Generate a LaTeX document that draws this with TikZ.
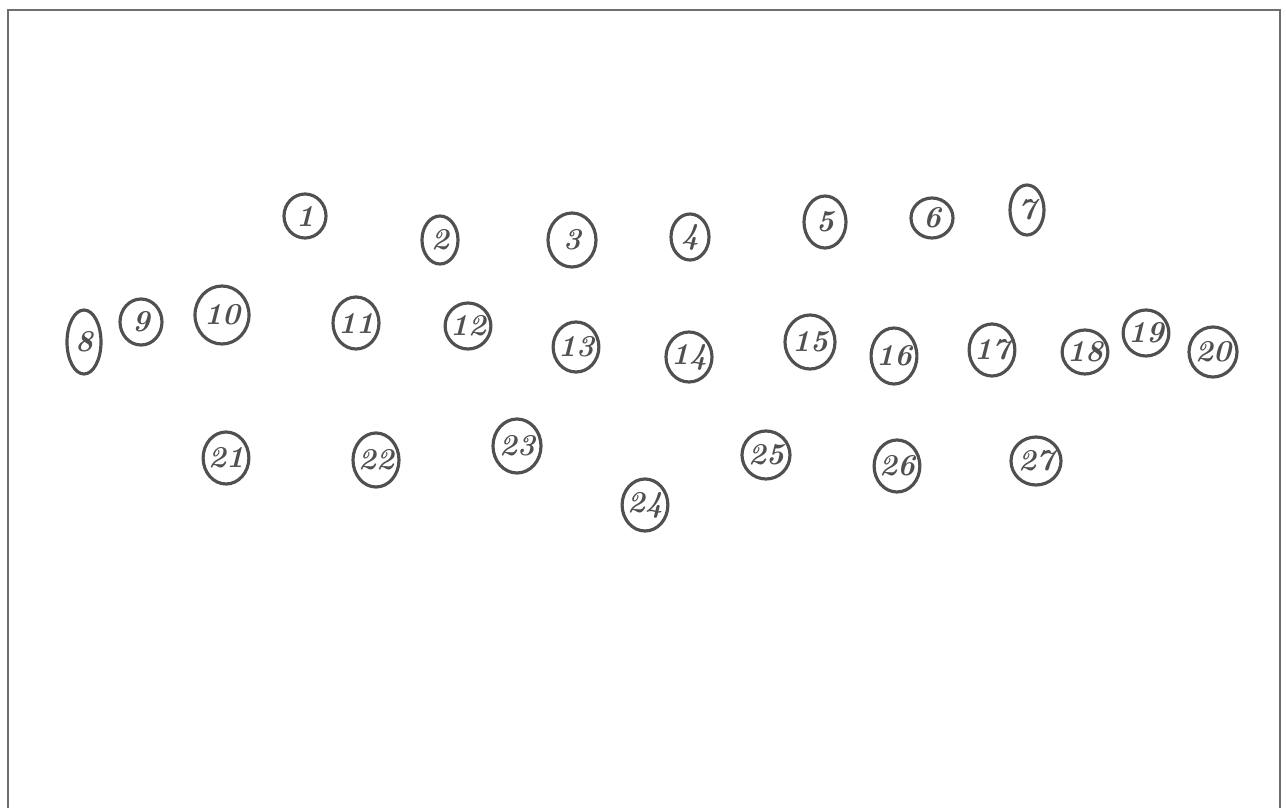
\documentclass[tikz,border=0pt]{standalone}
\usepackage{tikz}
\usetikzlibrary{shapes.geometric}
\definecolor{pInk}{RGB}{80,80,80}
\definecolor{pFrame}{RGB}{110,110,110}

\begin{document}
\begin{tikzpicture}[
	x=0.02cm, y=-0.02cm,
	num/.style={
		ellipse, draw=pInk, line width=1.8pt, inner sep=-1pt,
		text=pInk, font=\LARGE\bfseries\itshape
	}
	]
	\useasboundingbox (0,0) rectangle (1286,808);
	% frame, its bottom runs off the page
	\draw[pFrame, line width=1.5pt] (8,808) -- (8,10) -- (1280,10) -- (1280,808);

	% top row
	\foreach \i/\x/\y/\w/\h in {1/305/216/42/44, 2/440/240/36/48, 3/572/240/48/54,
		4/690/237/38/46, 5/825/222/42/52, 6/932/218/42/40, 7/1027/210/34/50}
	\node[num, minimum width=\w*0.02cm, minimum height=\h*0.02cm] (n\i) at (\x,\y) {\i};

	% middle row
	\foreach \i/\x/\y/\w/\h in {8/84/342/34/64, 9/141/322/42/46, 10/222/315/54/58,
		11/356/323/46/52, 12/468/326/42/46, 13/576/347/40/50, 14/689/357/46/50,
		15/810/342/50/54, 16/894/356/36/56, 17/992/350/40/52, 18/1085/352/42/44,
		19/1146/333/44/46, 20/1213/352/48/50}
	\node[num, minimum width=\w*0.02cm, minimum height=\h*0.02cm] (n\i) at (\x,\y) {\i};

	% bottom row
	\foreach \i/\x/\y/\w/\h in {21/226/458/42/52, 22/376/460/46/54, 23/517/446/48/54,
		24/645/505/36/52, 25/766/455/48/48, 26/897/466/42/52, 27/1036/461/50/48}
	\node[num, minimum width=\w*0.02cm, minimum height=\h*0.02cm] (n\i) at (\x,\y) {\i};
\end{tikzpicture}
\end{document}
